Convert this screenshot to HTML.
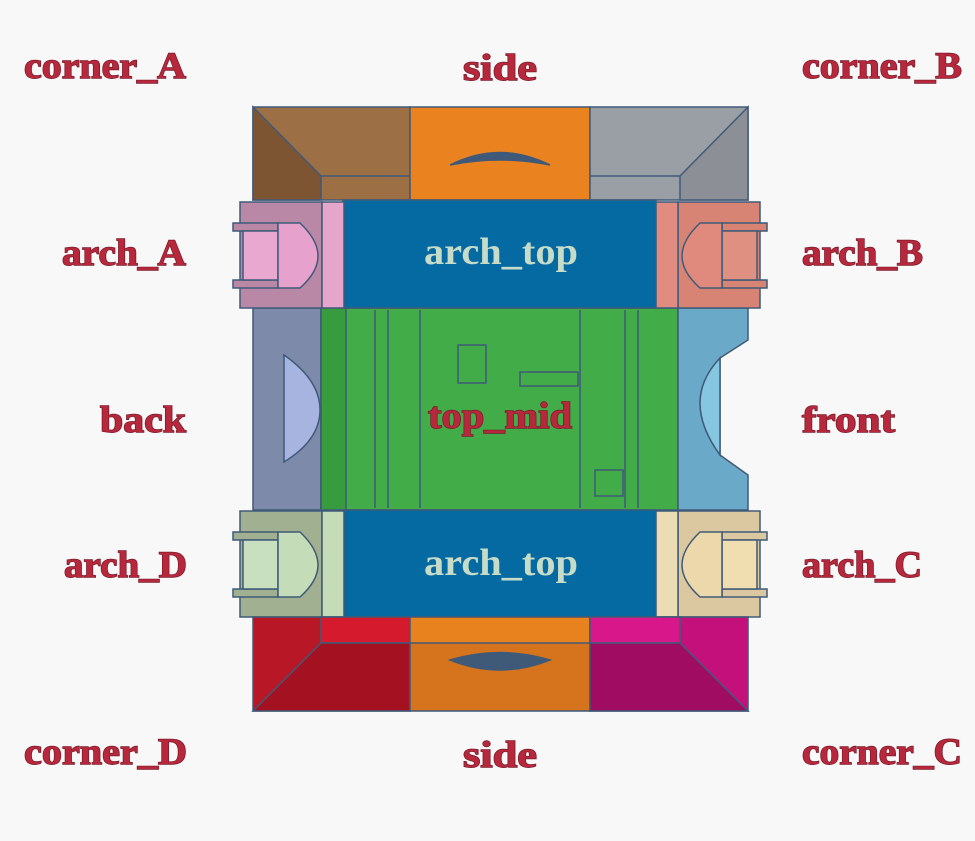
<!DOCTYPE html>
<html><head><style>
body{margin:0;background:#f8f8f9;}
svg{display:block}
.l{font-family:"Liberation Serif",serif;font-weight:bold;font-size:37px;fill:#b8283c;stroke:#7a1a2a;stroke-width:1.4px;paint-order:stroke}
.t{font-family:"Liberation Serif",serif;font-weight:bold;font-size:38px;fill:#c6dcc8}
</style></head><body>
<svg width="975" height="841" viewBox="0 0 975 841" xmlns="http://www.w3.org/2000/svg">
<rect width="975" height="841" fill="#f8f8f9"/>
<g stroke="#3f5a78" stroke-width="1.5">
<rect x="253" y="107" width="157" height="93" fill="#9c6f45"/>
<polygon points="253,107 321,176 321,200 253,200" fill="#7d5533"/>
<line x1="321" y1="176" x2="410" y2="176"/>
<rect x="410" y="107" width="180" height="93" fill="#ea8220"/>
<rect x="590" y="107" width="158" height="93" fill="#9a9fa6"/>
<polygon points="748,107 680,176 680,200 748,200" fill="#8c9096"/>
<line x1="590" y1="176" x2="680" y2="176"/>
<path d="M450,165 Q500,140 550,165 Q500,155 450,165Z" fill="#3f5a78"/>
<rect x="253" y="308" width="68" height="202" fill="#7e8aaa"/>
<path d="M284,355 Q320,380 320,410 Q320,440 284,462Z" fill="#a8b4e0"/>
<rect x="321" y="308" width="357" height="202" fill="#41ac48"/>
<rect x="321" y="308" width="25" height="202" fill="#389b3e"/>
<path d="M678,308 H748 V340 L720,358 V455 L748,475 V510 H678Z" fill="#6aaac8"/>
<path d="M720,358 Q680,400 720,455Z" fill="#86c6e0"/>
<g fill="none">
<line x1="375" y1="310" x2="375" y2="508"/><line x1="388" y1="310" x2="388" y2="508"/>
<line x1="420" y1="310" x2="420" y2="508"/><line x1="580" y1="310" x2="580" y2="508"/>
<line x1="625" y1="310" x2="625" y2="508"/><line x1="638" y1="310" x2="638" y2="508"/>
<rect x="458" y="345" width="28" height="38"/>
<rect x="520" y="372" width="58" height="14"/>
<rect x="595" y="470" width="28" height="26"/>
</g>
<rect x="343" y="200" width="313" height="108" fill="#066aa2"/>
<rect x="343" y="510" width="313" height="107" fill="#066aa2"/>
<rect x="240" y="202" width="82" height="106" fill="#b888a6"/>
<rect x="322" y="202" width="22" height="106" fill="#e6a6cc"/>
<rect x="233" y="223" width="45" height="8" fill="#b888a6"/>
<rect x="233" y="280" width="45" height="8" fill="#b888a6"/>
<rect x="243" y="231" width="35" height="49" fill="#e8a8d0"/>
<path d="M278,223 H300 Q318,240 318,256 Q318,272 300,288 H278Z" fill="#e6a2cc"/>
<rect x="678" y="202" width="82" height="106" fill="#d88474"/>
<rect x="656" y="202" width="22" height="106" fill="#e08c80"/>
<rect x="722" y="223" width="45" height="8" fill="#d88474"/>
<rect x="722" y="280" width="45" height="8" fill="#d88474"/>
<rect x="722" y="231" width="35" height="49" fill="#e09080"/>
<path d="M722,223 H700 Q682,240 682,256 Q682,272 700,288 H722Z" fill="#e08a7e"/>
<rect x="240" y="511" width="82" height="106" fill="#a0b090"/>
<rect x="322" y="511" width="22" height="106" fill="#c6dcb8"/>
<rect x="233" y="532" width="45" height="8" fill="#a0b090"/>
<rect x="233" y="589" width="45" height="8" fill="#a0b090"/>
<rect x="243" y="540" width="35" height="49" fill="#c8e0c0"/>
<path d="M278,532 H300 Q318,549 318,565 Q318,581 300,597 H278Z" fill="#c4dcb8"/>
<rect x="678" y="511" width="82" height="106" fill="#dcc8a0"/>
<rect x="656" y="511" width="22" height="106" fill="#ecdcb4"/>
<rect x="722" y="532" width="45" height="8" fill="#dcc8a0"/>
<rect x="722" y="589" width="45" height="8" fill="#dcc8a0"/>
<rect x="722" y="540" width="35" height="49" fill="#f0deb0"/>
<path d="M722,532 H700 Q682,549 682,565 Q682,581 700,597 H722Z" fill="#ecd8aa"/>
<rect x="253" y="617" width="157" height="94" fill="#b81826"/>
<polygon points="321,617 410,617 410,643 321,643" fill="#d41a2c"/>
<polygon points="321,643 410,643 410,711 253,711" fill="#a41222"/>
<rect x="410" y="617" width="180" height="94" fill="#d6741e"/>
<rect x="410" y="617" width="180" height="26" fill="#e8821e"/>
<rect x="590" y="617" width="158" height="94" fill="#c4107a"/>
<polygon points="590,617 680,617 680,643 590,643" fill="#d8188a"/>
<polygon points="590,643 680,643 748,711 590,711" fill="#a00c62"/>
<path d="M450,660 Q500,645 550,660 Q500,680 450,660Z" fill="#3f5a78"/>
</g>
<g class="l" style="font-family:'Liberation Serif',serif" >
<text class="l" x="24" y="78" textLength="162" lengthAdjust="spacingAndGlyphs">corner_A</text>
<text class="l" x="463" y="80" textLength="74" lengthAdjust="spacingAndGlyphs">side</text>
<text class="l" x="802" y="78" textLength="160" lengthAdjust="spacingAndGlyphs">corner_B</text>
<text class="l" x="62" y="265" textLength="124" lengthAdjust="spacingAndGlyphs">arch_A</text>
<text class="l" x="802" y="265" textLength="121" lengthAdjust="spacingAndGlyphs">arch_B</text>
<text class="l" x="100" y="432" textLength="86" lengthAdjust="spacingAndGlyphs">back</text>
<text class="l" x="802" y="432" textLength="93" lengthAdjust="spacingAndGlyphs">front</text>
<text class="l" x="428" y="428" textLength="144" lengthAdjust="spacingAndGlyphs">top_mid</text>
<text class="l" x="64" y="577" textLength="123" lengthAdjust="spacingAndGlyphs">arch_D</text>
<text class="l" x="802" y="577" textLength="120" lengthAdjust="spacingAndGlyphs">arch_C</text>
<text class="l" x="24" y="764" textLength="163" lengthAdjust="spacingAndGlyphs">corner_D</text>
<text class="l" x="463" y="767" textLength="74" lengthAdjust="spacingAndGlyphs">side</text>
<text class="l" x="802" y="764" textLength="160" lengthAdjust="spacingAndGlyphs">corner_C</text>
</g>
<text class="t" x="424" y="264" textLength="154" lengthAdjust="spacingAndGlyphs">arch_top</text>
<text class="t" x="424" y="575" textLength="154" lengthAdjust="spacingAndGlyphs">arch_top</text>
</svg>
</body></html>
